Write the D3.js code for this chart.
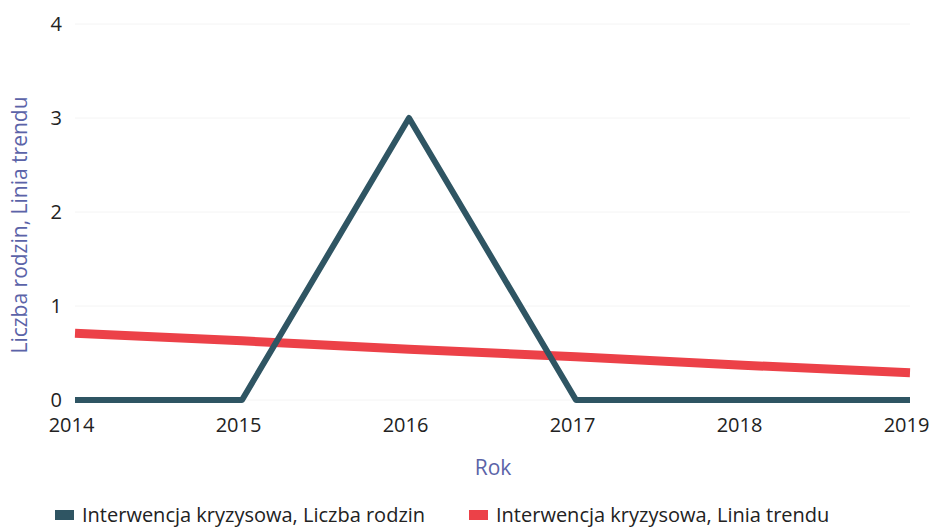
<!DOCTYPE html>
<html><head><meta charset="utf-8">
<script src="https://cdn.jsdelivr.net/npm/d3@7"></script>
<style>body{margin:0;background:#fff}svg{display:block}svg text{font-family:"Open Sans",sans-serif}</style>
</head><body><svg id="c" width="935" height="527"></svg>
<script>
const years = [2014, 2015, 2016, 2017, 2018, 2019];
const families = [0, 0, 3, 0, 0, 0];
const trend = [0.71, 0.63, 0.54, 0.46, 0.37, 0.29];
const yTicks = [0, 1, 2, 3, 4];
const seriesNames = ["Interwencja kryzysowa, Liczba rodzin", "Interwencja kryzysowa, Linia trendu"];
const colors = ["#2f5563", "#ec4148"];

const svg = d3.select("#c");
const x = d3.scaleLinear().domain([2014, 2019]).range([75, 910]);
const y = d3.scaleLinear().domain([0, 4]).range([400, 24]);

svg.append("g").selectAll("line").data(yTicks).join("line")
  .attr("x1", 75).attr("x2", 910).attr("y1", d => y(d)).attr("y2", d => y(d))
  .attr("stroke", "#f4f4f4").attr("stroke-width", 1);

const yAxis = d3.axisLeft(y).tickValues(yTicks).tickSize(0).tickPadding(13).tickFormat(d3.format("d"));
const gy = svg.append("g").attr("transform", "translate(75,0)").call(yAxis);
gy.select(".domain").remove();
gy.selectAll("text").attr("font-size", 20).attr("fill", "#222").attr("font-family", "Open Sans");

const xAxis = d3.axisBottom(x).tickValues(years).tickSize(0).tickPadding(18).tickFormat(d3.format("d"));
const gx = svg.append("g").attr("transform", "translate(-4,400)").call(xAxis);
gx.select(".domain").remove();
gx.selectAll("text").attr("font-size", 20).attr("fill", "#222").attr("font-family", "Open Sans");

const line = d3.line().x((d, i) => x(years[i])).y(d => y(d));
svg.append("path").datum(trend).attr("d", line).attr("fill", "none")
  .attr("stroke", colors[1]).attr("stroke-width", 9);
svg.append("path").datum(families).attr("d", line).attr("fill", "none")
  .attr("stroke", colors[0]).attr("stroke-width", 6).attr("stroke-linejoin", "round");

svg.append("text").attr("transform", "translate(27,225) rotate(-90)")
  .attr("text-anchor", "middle").attr("font-size", 21).attr("fill", "#5b63a8")
  .text("Liczba rodzin, Linia trendu");
svg.append("text").attr("x", 493).attr("y", 475).attr("text-anchor", "middle")
  .attr("font-size", 21).attr("fill", "#5b63a8").text("Rok");

const legX = [55, 469];
const lg = svg.append("g").selectAll("g").data(seriesNames).join("g")
  .attr("transform", (d, i) => `translate(${legX[i]},515)`);
lg.append("rect").attr("x", 0).attr("y", -5).attr("width", 19).attr("height", 10)
  .attr("fill", (d, i) => colors[i]);
lg.append("text").attr("x", 27).attr("y", 7).attr("font-size", 20).attr("fill", "#222").text(d => d);
</script></body></html>
